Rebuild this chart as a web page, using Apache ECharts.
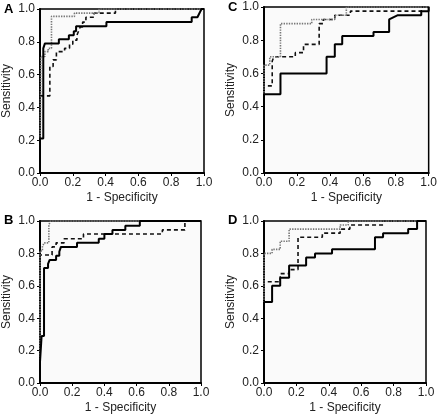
<!DOCTYPE html>
<html><head><meta charset="utf-8">
<script src="https://cdn.jsdelivr.net/npm/echarts@6/dist/echarts.min.js"></script>
<style>html,body{margin:0;padding:0;background:#fff}#c{width:440px;height:415px}</style>
</head><body><div id="c"></div>
<script>
// Panel labels and tick values
const panelLabels = ['A', 'B', 'C', 'D'];
const tickValues = [0, 0.2, 0.4, 0.6, 0.8, 1.0];
const xAxisName = '1 - Specificity';
const yAxisName = 'Sensitivity';

// Panel A
const A_solid = [[0,0],[0,0.21],[0.02,0.21],[0.02,0.76],[0.03,0.76],[0.03,0.79],[0.115,0.79],[0.115,0.815],[0.176,0.815],[0.176,0.84],[0.206,0.84],[0.206,0.865],[0.22,0.865],[0.22,0.895],[0.405,0.895],[0.405,0.92],[0.925,0.92],[0.925,0.95],[0.96,0.95],[0.975,0.98],[0.985,1],[1,1]];
const A_dashed = [[0,0],[0,0.47],[0.06,0.47],[0.06,0.65],[0.08,0.65],[0.08,0.69],[0.1,0.69],[0.1,0.74],[0.15,0.74],[0.15,0.76],[0.18,0.76],[0.18,0.785],[0.2,0.785],[0.2,0.81],[0.225,0.81],[0.225,0.84],[0.235,0.84],[0.235,0.865],[0.245,0.865],[0.245,0.89],[0.26,0.89],[0.26,0.92],[0.28,0.92],[0.28,0.95],[0.33,0.95],[0.33,0.975],[0.46,0.975],[0.46,1],[1,1]];
const A_dotted = [[0,0],[0.005,0.71],[0.03,0.71],[0.03,0.74],[0.05,0.74],[0.05,0.76],[0.07,0.76],[0.07,0.955],[0.21,0.955],[0.21,0.975],[0.36,0.975],[0.36,1],[1,1]];

// Panel B
const B_solid = [[0,0],[0,0.13],[0.01,0.13],[0.01,0.29],[0.025,0.29],[0.025,0.71],[0.05,0.71],[0.05,0.735],[0.06,0.735],[0.06,0.76],[0.1,0.76],[0.1,0.785],[0.12,0.785],[0.12,0.81],[0.13,0.81],[0.13,0.84],[0.23,0.84],[0.23,0.865],[0.365,0.865],[0.365,0.89],[0.4,0.89],[0.4,0.92],[0.45,0.92],[0.45,0.945],[0.53,0.945],[0.53,0.97],[0.62,0.97],[0.62,1],[1,1]];
const B_dashed = [[0,0],[0,0.79],[0.075,0.79],[0.075,0.84],[0.1,0.84],[0.1,0.865],[0.15,0.865],[0.15,0.89],[0.27,0.89],[0.27,0.92],[0.76,0.92],[0.76,0.945],[0.9,0.945],[0.9,1],[1,1]];
const B_dotted = [[0,0],[0,0.815],[0.015,0.815],[0.015,0.84],[0.025,0.84],[0.025,0.865],[0.055,0.865],[0.055,0.975],[0.065,0.975],[0.065,1],[1,1]];

// Panel C
const C_solid = [[0,0],[0,0.475],[0.1,0.475],[0.1,0.6],[0.38,0.6],[0.38,0.7],[0.43,0.7],[0.43,0.775],[0.475,0.775],[0.475,0.825],[0.665,0.825],[0.665,0.85],[0.76,0.85],[0.76,0.925],[0.81,0.95],[0.955,0.95],[0.955,0.975],[1,0.975],[1,1]];
const C_dashed = [[0,0],[0,0.525],[0.05,0.525],[0.05,0.675],[0.06,0.675],[0.06,0.7],[0.19,0.7],[0.19,0.725],[0.24,0.725],[0.24,0.775],[0.335,0.775],[0.335,0.9],[0.36,0.9],[0.36,0.925],[0.43,0.925],[0.43,0.95],[0.525,0.95],[0.525,0.975],[0.955,0.975],[0.955,1],[1,1]];
const C_dotted = [[0,0],[0,0.65],[0.035,0.65],[0.035,0.7],[0.1,0.7],[0.1,0.9],[0.29,0.9],[0.29,0.925],[0.43,0.925],[0.43,0.95],[0.5,0.95],[0.5,1],[1,1]];

// Panel D
const D_solid = [[0,0],[0,0.5],[0.05,0.5],[0.05,0.6],[0.1,0.6],[0.1,0.65],[0.155,0.65],[0.155,0.725],[0.26,0.725],[0.26,0.775],[0.315,0.775],[0.315,0.8],[0.42,0.8],[0.42,0.825],[0.685,0.825],[0.685,0.9],[0.735,0.9],[0.735,0.925],[0.89,0.925],[0.89,0.95],[0.945,0.95],[0.945,1],[1,1]];
const D_dashed = [[0,0],[0,0.625],[0.1,0.625],[0.1,0.675],[0.155,0.675],[0.155,0.7],[0.21,0.7],[0.21,0.9],[0.36,0.9],[0.36,0.925],[0.47,0.925],[0.47,0.95],[0.53,0.95],[0.53,0.975],[0.735,0.975],[0.735,1],[1,1]];
const D_dotted = [[0,0],[0,0.8],[0.05,0.8],[0.05,0.825],[0.1,0.825],[0.1,0.875],[0.155,0.875],[0.155,0.95],[0.47,0.95],[0.47,0.975],[0.52,0.975],[0.52,1],[1,1]];

const panels = [
  {label:'A', solid:A_solid, dashed:A_dashed, dotted:A_dotted, grid:{left:39, top:9, width:165, height:164}, lab:[4,3]},
  {label:'B', solid:B_solid, dashed:B_dashed, dotted:B_dotted, grid:{left:39, top:221, width:162, height:163}, lab:[4,214]},
  {label:'C', solid:C_solid, dashed:C_dashed, dotted:C_dotted, grid:{left:264, top:7, width:167, height:166}, lab:[228,1]},
  {label:'D', solid:D_solid, dashed:D_dashed, dotted:D_dotted, grid:{left:264, top:221, width:162, height:163}, lab:[228,214]}
];

const font = 'Liberation Sans, Arial, sans-serif';
const fmt = v => Number(v).toFixed(1);
const grids = [], xAxes = [], yAxes = [], series = [], titles = [];
panels.forEach((p, i) => {
  grids.push(Object.assign({show:true, backgroundColor:'#fafafa', borderColor:'#000', borderWidth:1.5}, p.grid));
  xAxes.push({type:'value', gridIndex:i, min:0, max:1, interval:0.2,
    name:xAxisName, nameLocation:'middle', nameGap:19,
    nameTextStyle:{fontFamily:font, fontSize:12, color:'#222'},
    axisLine:{show:true, onZero:false, lineStyle:{color:'#000', width:2}},
    axisTick:{show:true, length:3, lineStyle:{color:'#000'}},
    axisLabel:{formatter:fmt, fontFamily:font, fontSize:12, color:'#222', margin:4},
    splitLine:{show:false}});
  yAxes.push({type:'value', gridIndex:i, min:0, max:1, interval:0.2,
    name:yAxisName, nameLocation:'middle', nameGap:27,
    nameTextStyle:{fontFamily:font, fontSize:12, color:'#222'},
    axisLine:{show:true, onZero:false, lineStyle:{color:'#000', width:2}},
    axisTick:{show:true, length:3, lineStyle:{color:'#000'}},
    axisLabel:{formatter:fmt, fontFamily:font, fontSize:12, color:'#222', margin:5},
    splitLine:{show:false}});
  const base = {type:'line', xAxisIndex:i, yAxisIndex:i, symbol:'none', animation:false, silent:true};
  series.push(Object.assign({}, base, {data:p.dashed, z:3, lineStyle:{color:'#111', width:1.6, type:[4,3]}}));
  series.push(Object.assign({}, base, {data:p.dotted, z:4, lineStyle:{color:'#777', width:1.6, type:[1.4,1.2]}}));
  series.push(Object.assign({}, base, {data:p.solid, z:5, lineStyle:{color:'#000', width:2}}));
  titles.push({text:p.label, left:p.lab[0], top:p.lab[1], padding:0,
    textStyle:{fontFamily:font, fontSize:13, fontWeight:'bold', color:'#000'}});
});

const chart = echarts.init(document.getElementById('c'), null, {renderer:'canvas'});
chart.setOption({animation:false, backgroundColor:'#fff', title:titles, grid:grids, xAxis:xAxes, yAxis:yAxes, series:series});
</script></body></html>
